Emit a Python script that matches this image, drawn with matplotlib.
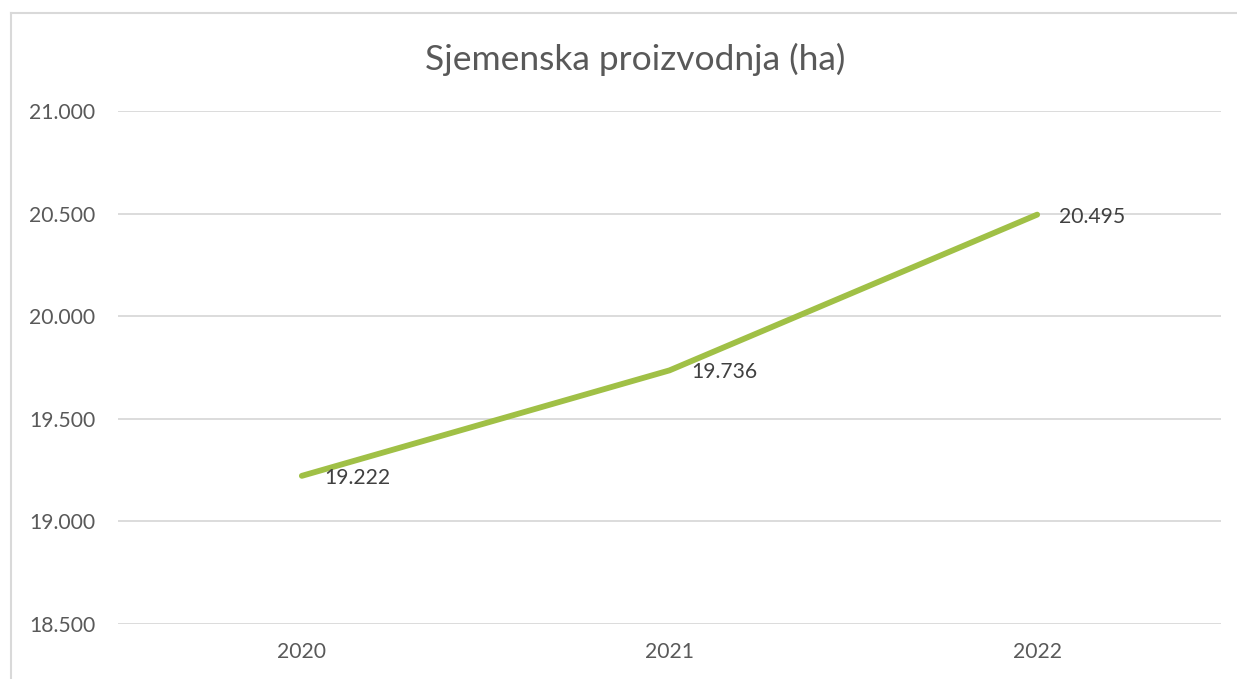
import matplotlib
matplotlib.use("Agg")
import matplotlib.pyplot as plt
from matplotlib.lines import Line2D

years = ["2020", "2021", "2022"]
values = [19222, 19736, 20495]
value_labels = ["19.222", "19.736", "20.495"]
y_ticks = [18500, 19000, 19500, 20000, 20500, 21000]
y_tick_labels = ["18.500", "19.000", "19.500", "20.000", "20.500", "21.000"]
title = "Sjemenska proizvodnja (ha)"

W, H = 1237, 679
fig = plt.figure(figsize=(W / 100, H / 100), dpi=100)
plt.rcParams['font.family'] = ['Lato', 'DejaVu Sans']
txt = '#595959'

ax = fig.add_axes([118 / W, 1 - 624 / H, (1221 - 118) / W, (624 - 111) / H])
x = list(range(len(years)))
ax.plot(x, values, color='#A0C046', lw=4.2, solid_capstyle='round', zorder=3)
for xi, v, lab in zip(x, values, value_labels):
    ax.annotate(lab, (xi, v), xytext=(16, -1.5), textcoords='offset points',
                ha='left', va='center', fontsize=15.2, color='#404040')

ax.set_xlim(-0.5, 2.5)
ax.set_ylim(18500, 21000)
ax.set_yticks(y_ticks)
ax.set_yticklabels(y_tick_labels)
ax.set_xticks(x)
ax.set_xticklabels(years)
ax.tick_params(axis='both', length=0, labelsize=15.2, labelcolor=txt)
ax.tick_params(axis='y', pad=16.5)
ax.tick_params(axis='x', pad=13)
for lab in ax.get_yticklabels():
    lab.set_horizontalalignment('right')
ax.grid(axis='y', color='#D9D9D9', lw=1.3)
ax.set_axisbelow(True)
for s in ax.spines.values():
    s.set_visible(False)

fig.text(635 / W, 1 - 59 / H, title, ha='center', va='center', fontsize=25.5, color=txt)

# chart border (top and left visible)
fig.add_artist(Line2D([11 / W, 11 / W], [0, 1 - 13 / H], transform=fig.transFigure, color='#D9D9D9', lw=1.5))
fig.add_artist(Line2D([11 / W, 1], [1 - 13 / H, 1 - 13 / H], transform=fig.transFigure, color='#D9D9D9', lw=1.5))

fig.savefig('out.png', dpi=100, facecolor='white')
